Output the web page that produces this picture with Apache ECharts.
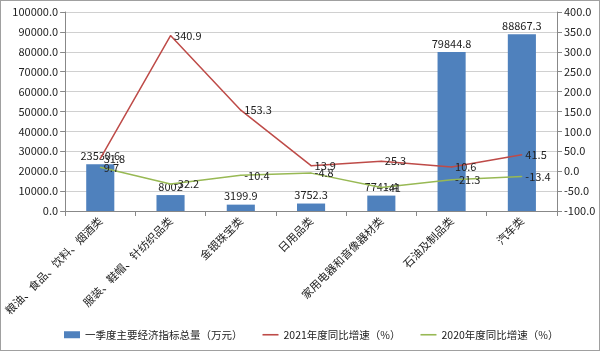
<!DOCTYPE html>
<html>
<head>
<meta charset="utf-8">
<script src="https://cdn.jsdelivr.net/npm/echarts@6/dist/echarts.min.js"></script>
<style>
  html, body { margin: 0; padding: 0; background: #fff; }
  #chart { width: 600px; height: 351px; box-sizing: border-box; border: 1px solid #a0a0a0; }
</style>
</head>
<body>
<div id="chart"></div>
<script>
const categories = ['粮油、食品、饮料、烟酒类', '服装、鞋帽、针纺织品类', '金银珠宝类', '日用品类', '家用电器和音像器材类', '石油及制品类', '汽车类'];
const totals = [23530.6, 8002, 3199.9, 3752.3, 7741.4, 79844.8, 88867.3];
const growth2021 = [31.8, 340.9, 153.3, 13.9, 25.3, 10.6, 41.5];
const growth2020 = [9.7, -32.2, -10.4, -4.8, -41, -21.3, -13.4];

const chart = echarts.init(document.getElementById('chart'));
const font = '"Noto Sans CJK SC", "Liberation Sans", sans-serif';

// line labels need a symbol to hang on, so keep a tiny one
const lineLabel = { show: true, position: 'right', fontSize: 11, color: '#222', distance: 3 };

chart.setOption({
  animation: false,
  textStyle: { fontFamily: font },
  grid: { left: 63, right: 42, top: 11, bottom: 139 },
  legend: {
    bottom: 5,
    left: 58,
    itemWidth: 16,
    itemHeight: 7,
    itemGap: 20,
    textStyle: { fontSize: 10.5, color: '#222' },
    data: [
      { name: '一季度主要经济指标总量（万元）', icon: 'rect' },
      { name: '2021年度同比增速（%）', icon: 'path://M0,0H10V1H0Z' },
      { name: '2020年度同比增速（%）', icon: 'path://M0,0H10V1H0Z' }
    ]
  },
  xAxis: {
    type: 'category',
    data: categories,
    axisLine: { lineStyle: { color: '#888' } },
    axisTick: { show: true, lineStyle: { color: '#888' } },
    axisLabel: { rotate: 45, fontSize: 11, color: '#222', interval: 0, margin: 8 }
  },
  yAxis: [
    {
      type: 'value', min: 0, max: 100000, interval: 10000,
      axisLine: { show: true, lineStyle: { color: '#888' } },
      axisTick: { show: true, lineStyle: { color: '#888' } },
      splitLine: { lineStyle: { color: '#d0d0d0' } },
      axisLabel: { fontSize: 11, color: '#222', margin: 7, formatter: v => v.toFixed(1) }
    },
    {
      type: 'value', min: -100, max: 400, interval: 50,
      axisLine: { show: true, lineStyle: { color: '#888' } },
      axisTick: { show: true, lineStyle: { color: '#888' } },
      splitLine: { show: false },
      axisLabel: { fontSize: 11, color: '#222', margin: 7, formatter: v => v.toFixed(1) }
    }
  ],
  series: [
    {
      name: '一季度主要经济指标总量（万元）',
      type: 'bar',
      data: totals,
      barWidth: '40%',
      itemStyle: { color: '#4f81bd' },
      label: { show: true, position: 'top', fontSize: 11, color: '#222', distance: 3 }
    },
    {
      name: '2021年度同比增速（%）',
      type: 'line',
      yAxisIndex: 1,
      data: growth2021,
      symbol: 'circle',
      symbolSize: 1,
      lineStyle: { color: '#be4b48', width: 1.5 },
      itemStyle: { color: '#be4b48' },
      label: lineLabel,
      labelLayout: { hideOverlap: false }
    },
    {
      name: '2020年度同比增速（%）',
      type: 'line',
      yAxisIndex: 1,
      data: growth2020,
      symbol: 'circle',
      symbolSize: 1,
      lineStyle: { color: '#98b954', width: 1.5 },
      itemStyle: { color: '#98b954' },
      label: lineLabel,
      labelLayout: { hideOverlap: false }
    }
  ]
});
</script>
</body>
</html>
